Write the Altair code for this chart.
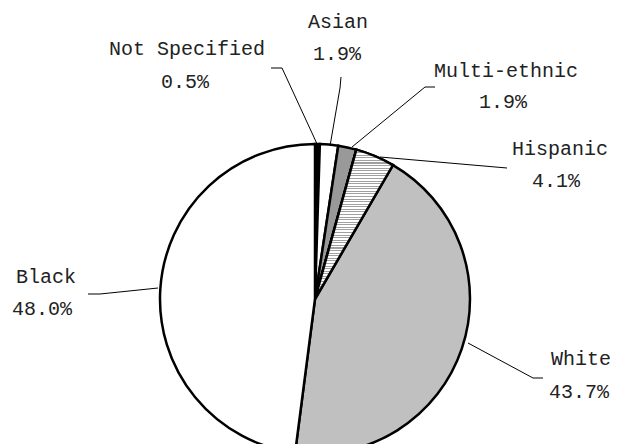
import altair as alt
import pandas as pd

# ---- data ----
labels = ["Not Specified", "Asian", "Multi-ethnic", "Hispanic", "White", "Black"]
shares = [0.5, 1.9, 1.9, 4.1, 43.7, 48.0]
pct_text = ["0.5%", "1.9%", "1.9%", "4.1%", "43.7%", "48.0%"]
fills = ["#000000", "#ffffff", "#999999", "#ffffff", "#c0c0c0", "#ffffff"]

# ---- layout (page pixel coordinates) ----
M = 8  # page margin
CX, CY, R = 315, 299, 155
name_x = [187, 338, 506, 560, 581, 46]
name_y = [55, 28, 77, 155, 365, 283]
pct_x = [185, 337, 503, 556, 579, 42]
pct_y = [88, 60, 108, 187, 398, 315]
leader_x = [[271, 282, 318], [341, 340, 330], [435, 425, 352],
            [507, 380], [543, 533, 468], [88, 100, 158]]
leader_y = [[68, 68, 146], [77, 88, 146], [87, 87, 147],
            [168, 157], [378, 378, 343], [294, 294, 288]]

slices = pd.DataFrame({"label": labels, "share": shares,
                       "idx": list(range(len(labels)))})

text_rows = []
for i, lab in enumerate(labels):
    text_rows.append({"t": lab, "x": name_x[i] - M, "y": name_y[i] - M})
    text_rows.append({"t": pct_text[i], "x": pct_x[i] - M, "y": pct_y[i] - M})
texts = pd.DataFrame(text_rows)

line_rows = []
for i, lab in enumerate(labels):
    for j, (px, py) in enumerate(zip(leader_x[i], leader_y[i])):
        line_rows.append({"label": lab, "o": j, "x": px - M, "y": py - M})
lines = pd.DataFrame(line_rows)

total = sum(shares)

# striped fill imitating the hatch pattern
N = 58
stops = []
for k in range(N):
    a = k / N
    b = (k + 0.4) / N
    c = (k + 1) / N
    stops += [{"offset": a, "color": "#a0a0a0"}, {"offset": b, "color": "#a0a0a0"},
              {"offset": b, "color": "#ffffff"}, {"offset": c, "color": "#ffffff"}]
hatch = {"gradient": "linear", "x1": 0, "y1": 0, "x2": 0, "y2": 1, "stops": stops}

base_arc = alt.Chart(slices).transform_window(
    end="sum(share)", sort=[alt.SortField("idx")], frame=[None, 0]
).transform_calculate(start="datum.end - datum.share")

theta = alt.Theta("start:Q", scale=alt.Scale(domain=[0, total]))

pie = base_arc.mark_arc(outerRadius=R, stroke="black", strokeWidth=2.5).encode(
    theta=theta,
    theta2="end:Q",
    fill=alt.Fill("label:N", scale=alt.Scale(domain=labels, range=fills), legend=None),
    x=alt.value(CX - M),
    y=alt.value(CY - M),
)

hisp = base_arc.transform_filter("datum.label == 'Hispanic'").mark_arc(
    outerRadius=R, stroke="black", strokeWidth=2.5, fill=hatch
).encode(
    theta=theta,
    theta2="end:Q",
    x=alt.value(CX - M),
    y=alt.value(CY - M),
)

leaders = alt.Chart(lines).mark_line(color="black", strokeWidth=1).encode(
    x=alt.X("x:Q", scale=None),
    y=alt.Y("y:Q", scale=None),
    detail="label:N",
    order="o:Q",
)

txt = alt.Chart(texts).mark_text(
    font="Liberation Mono", fontSize=20, color="#222222",
    align="center", baseline="alphabetic"
).encode(
    x=alt.X("x:Q", scale=None),
    y=alt.Y("y:Q", scale=None),
    text="t:N",
)

chart = alt.layer(pie, hisp, leaders, txt).properties(
    width=602, height=436, padding=0, autosize="none"
).configure_view(stroke=None)

chart.save("out.html", embed_options={"renderer": "svg", "actions": False})
